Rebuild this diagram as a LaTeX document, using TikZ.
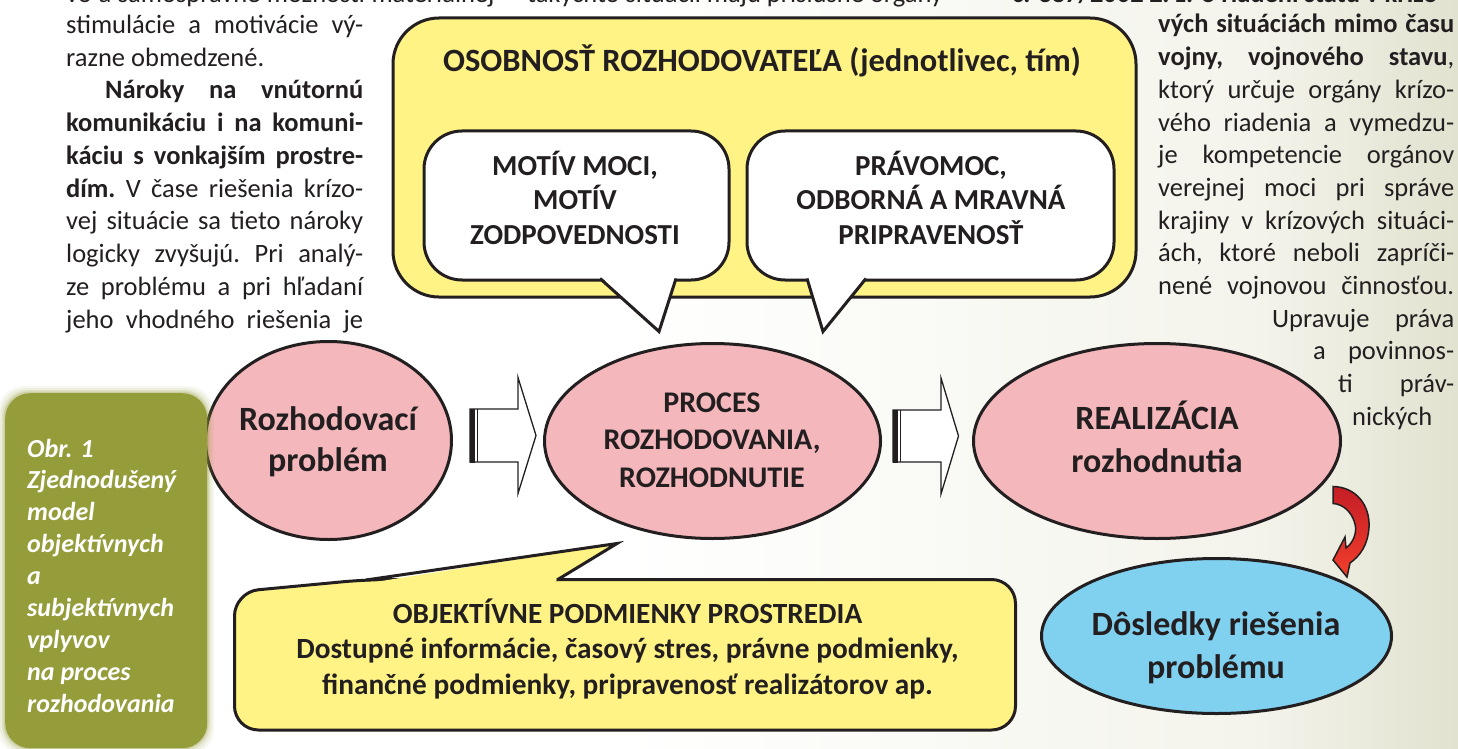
\documentclass[tikz,border=0pt]{standalone}
\usepackage{fontspec}
\setmainfont{Carlito}
\usetikzlibrary{shapes.geometric}
\definecolor{ink}{RGB}{35,31,32}
\definecolor{yel}{RGB}{255,243,133}
\definecolor{pinkf}{RGB}{244,184,188}
\definecolor{bluef}{RGB}{128,208,240}
\definecolor{olive}{RGB}{149,156,58}
\definecolor{bgmid}{RGB}{244,244,236}
\definecolor{bgr}{RGB}{226,226,208}
\definecolor{redA}{RGB}{196,30,38}
\definecolor{redB}{RGB}{242,62,44}
\newcommand{\bodyfont}{\fontsize{26.5}{32.8}\selectfont}
\newcommand{\jline}[2]{\hbox to #1{\frenchspacing\spaceskip=.25em plus 1fil\relax #2}}
\newcommand{\cstack}[2]{\vtop{\baselineskip=#1\lineskiplimit=-100pt\halign{\hfil##\hfil\cr#2\crcr}}}
\tikzset{
  outl/.style={draw=ink, line width=3pt},
  ell/.style={ellipse, outl, inner sep=0pt},
  body/.style={anchor=base west, inner sep=0pt, text=ink, font=\bodyfont},
  ctext/.style={anchor=base, inner sep=0pt, text=ink},
  barrow/.style={draw=ink, line width=1.3pt, fill=white, line join=miter},
}
\begin{document}
\begin{tikzpicture}[x=1pt,y=-1pt]
\useasboundingbox (0,0) rectangle (1458,749);
\clip (0,0) rectangle (1458,749);
% background
\fill[white] (0,0) rectangle (1458,749);
\shade[left color=white, right color=bgmid] (620,0) rectangle (1250,749);
\shade[left color=bgmid, right color=bgr] (1250,0) rectangle (1458,749);

% cut-off line at the top
\node[body] (topl) at (66,3) {\jline{399pt}{vo a samosprávne možnosti materiálnej}};
\node[body] (topm) at (527,3) {takýchto situácií majú príslušné orgány};
\node[body] (topr) at (1012,3) {\bfseries č. 387/2002 Z. z. o riadení štátu v krízo-};

% left column
\node[body] (lcol) at (66,33.5) {\vtop{\baselineskip=32.75pt\lineskiplimit=-100pt
  \jline{297pt}{stimulácie a motivácie vý-}
  \hbox{razne obmedzené.}
  \hbox to 297pt{\hskip 39pt\jline{258pt}{\bfseries Nároky na vnútornú}}
  \jline{297pt}{\bfseries komunikáciu i na komuni-}
  \jline{297pt}{\bfseries káciu s vonkajším prostre-}
  \jline{297pt}{\textbf{dím.} V čase riešenia krízo-}
  \jline{297pt}{vej situácie sa tieto nároky}
  \jline{297pt}{logicky zvyšujú. Pri analý-}
  \jline{297pt}{ze problému a pri hľadaní}
  \jline{297pt}{jeho vhodného riešenia je}}};

% right column
\node[body] (rcol) at (1158,33) {\vtop{\baselineskip=32.67pt\lineskiplimit=-100pt
  \jline{296pt}{\bfseries vých situáciách mimo času}
  \jline{296pt}{{\bfseries vojny, vojnového stavu},}
  \jline{296pt}{ktorý určuje orgány krízo-}
  \jline{296pt}{vého riadenia a vymedzu-}
  \jline{296pt}{je kompetencie orgánov}
  \jline{296pt}{verejnej moci pri správe}
  \jline{296pt}{krajiny v krízových situáci-}
  \jline{296pt}{ách, ktoré neboli zapríči-}
  \jline{296pt}{nené vojnovou činnosťou.}
  \hbox to 296pt{\hfill\jline{182pt}{Upravuje práva}}
  \hbox to 296pt{\hfill\jline{141pt}{a povinnos-}}
  \hbox to 296pt{\hfill\jline{116pt}{ti práv-}}
  \hbox to 296pt{\hskip 194pt nických\hfill}}};

% big yellow box
\node[outl, fill=yel, rectangle, rounded corners=46pt, minimum width=743pt, minimum height=279pt,
  anchor=north west, inner sep=0pt] (osob) at (391.5,16.5) {};
\node[ctext, font=\fontsize{32.5}{38}\selectfont\bfseries] (osobt) at (762,72)
  {OSOBNOSŤ ROZHODOVATEĽA (jednotlivec, tím)};

% white callouts
\node[outl, fill=white, rectangle, rounded corners=38pt, minimum width=305pt, minimum height=149pt,
  anchor=north west, inner sep=0pt] (motiv) at (422.5,129.5) {};
\node[outl, fill=white, rectangle, rounded corners=38pt, minimum width=367pt, minimum height=149pt,
  anchor=north west, inner sep=0pt] (pravo) at (745.5,129.5) {};
\coordinate (mtip) at (659,331.5);
\coordinate (ptip) at (823,331.5);
\fill[white] (600,276) -- (676,276) -- (mtip) -- cycle;
\draw[ink, line width=3pt, line join=miter] (600,278.5) -- (mtip) -- (676,278.5);
\fill[white] (807,276) -- (866,276) -- (ptip) -- cycle;
\draw[ink, line width=3pt, line join=miter] (807,278.5) -- (ptip) -- (866,278.5);
\node[ctext, font=\fontsize{29}{35}\selectfont\bfseries] (motivt) at (575,175)
  {\cstack{35pt}{MOTÍV MOCI,\cr MOTÍV\cr ZODPOVEDNOSTI}};
\node[ctext, font=\fontsize{29}{35}\selectfont\bfseries] (pravot) at (931,175)
  {\cstack{35pt}{PRÁVOMOC,\cr ODBORNÁ A MRAVNÁ\cr PRIPRAVENOSŤ}};

% ellipses
\node[ell, fill=pinkf, minimum width=246pt, minimum height=198pt] (e1) at (328.5,440.5) {};
\node[ell, fill=pinkf, minimum width=336pt, minimum height=195pt] (e2) at (712.5,441) {};
\node[ell, fill=pinkf, minimum width=367pt, minimum height=195pt] (e3) at (1157,441) {};
\node[ell, fill=bluef, minimum width=350pt, minimum height=155pt] (e4) at (1216.5,636) {};
\node[ctext, font=\fontsize{34}{41}\selectfont\bfseries] (e1t) at (328,430)
  {\cstack{41pt}{Rozhodovací\cr problém}};
\node[ctext, font=\fontsize{30}{37}\selectfont\bfseries] (e2t) at (712,412)
  {\cstack{37.5pt}{PROCES\cr ROZHODOVANIA,\cr ROZHODNUTIE}};
\node[ctext, font=\fontsize{34}{43}\selectfont\bfseries] (e3t) at (1157,429)
  {\cstack{43pt}{REALIZÁCIA\cr rozhodnutia}};
\node[ctext, font=\fontsize{34}{43}\selectfont\bfseries] (e4t) at (1216,635)
  {\cstack{43pt}{Dôsledky riešenia\cr problému}};

% block arrows
\draw[barrow] (470,409) -- (518,409) -- (518,377.5) -- (536,435.5) -- (518,493.5) -- (518,462) -- (470,462) -- cycle;
\fill[ink] (469.5,408.5) rectangle (474.5,462.5);
\draw[ink, line width=1.2pt] (477.5,409) -- (477.5,462);
\draw[barrow] (893,410) -- (941,410) -- (941,378) -- (958.5,436) -- (941,494) -- (941,462) -- (893,462) -- cycle;
\fill[ink] (892.5,409.5) rectangle (897.5,462.5);
\draw[ink, line width=1.2pt] (900.5,410) -- (900.5,462);

% red curved arrow from e3 to e4
\path[draw=ink, line width=1.5pt, top color=redA, bottom color=redB, line join=miter]
  (1333,486.5) .. controls (1356,487) and (1370,505) .. (1369,527)
  .. controls (1368,545) and (1360,556) .. (1350,563)
  -- (1347,577) -- (1333,560) -- (1345,537) -- (1346,548)
  .. controls (1354,542) and (1357,532) .. (1355,524)
  .. controls (1352,512) and (1343,504) .. (1333,503.5) -- cycle;

% bottom callout
\draw[outl, fill=yel, rounded corners=24pt] (234.5,660) -- (234.5,730) -- (1015.5,730)
  -- (1015.5,579.5) -- (560,579.5) -- (367,579.5) -- (234.5,592) -- cycle;
\coordinate (otip) at (617,543.5);
\fill[yel] (372,582.5) -- (otip) -- (553,582.5) -- cycle;
\draw[ink, line width=3pt, line join=miter] (366,580) -- (otip) -- (557,580);
\node[ctext, font=\fontsize{29.3}{35}\selectfont\bfseries] (objt) at (627.5,623)
  {\cstack{35.5pt}{OBJEKTÍVNE PODMIENKY PROSTREDIA\cr
   Dostupné informácie, časový stres, právne podmienky,\cr
   finančné podmienky, pripravenosť realizátorov ap.}};

% caption box
\foreach \k/\o in {7/0.07,5/0.1,3/0.15,1.5/0.25}
  \fill[olive, opacity=\o, rounded corners=26pt] (5-\k,393-\k) rectangle (207+\k,748+\k);
\node[fill=olive, rectangle, rounded corners=25pt, minimum width=202pt, minimum height=355pt,
  anchor=north west, inner sep=0pt] (capbox) at (5,393) {};
\node[anchor=base west, inner sep=0pt, text=white,
  font=\fontsize{26}{32}\selectfont\bfseries\itshape] (captxt) at (27,457)
  {\vtop{\baselineskip=31.9pt\lineskiplimit=-100pt
   \hbox{Obr. 1}\hbox{Zjednodušený}\hbox{model}\hbox{objektívnych}\hbox{a}
   \hbox{subjektívnych}\hbox{vplyvov}\hbox{na proces}\hbox{rozhodovania}}};
\end{tikzpicture}
\end{document}
